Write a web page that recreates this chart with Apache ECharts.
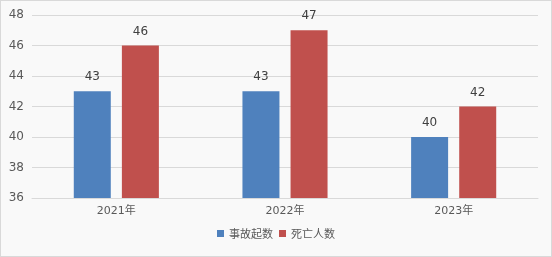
<!DOCTYPE html>
<html><head><meta charset="utf-8">
<script src="https://cdn.jsdelivr.net/npm/echarts@6/dist/echarts.min.js"></script>
<style>html,body{margin:0;padding:0;background:#fff}#c{width:552px;height:257px;box-sizing:border-box;border:1px solid #d9d9d9;background:#f9f9f9}</style>
</head><body><div id="c"></div>
<script>
const categories = ['2021年', '2022年', '2023年'];
const accidents = [43, 43, 40];
const deaths = [46, 47, 42];
const seriesNames = ['事故起数', '死亡人数'];
const chart = echarts.init(document.getElementById('c'));
const font = '"DejaVu Sans", "Noto Sans CJK SC", sans-serif';
const cjk = '"Noto Sans CJK SC", sans-serif';
chart.setOption({
  animation: false,
  textStyle: {fontFamily: font},
  grid: {left: 31, right: 13, top: 14, bottom: 58, containLabel: false},
  legend: {
    bottom: 12, left: 'center', itemWidth: 7, itemHeight: 7, itemGap: 6,
    icon: 'rect',
    textStyle: {color: '#595959', fontSize: 11, fontFamily: cjk},
    data: seriesNames
  },
  xAxis: {
    type: 'category', data: categories,
    axisLine: {lineStyle: {color: '#d9d9d9'}},
    axisTick: {show: false},
    axisLabel: {color: '#595959', fontSize: 11, margin: 8, fontFamily: font}
  },
  yAxis: {
    type: 'value', min: 36, max: 48, interval: 2,
    axisLine: {show: false}, axisTick: {show: false},
    splitLine: {lineStyle: {color: '#d9d9d9'}},
    axisLabel: {color: '#595959', fontSize: 12, margin: 8, fontFamily: font}
  },
  series: [
    {name: seriesNames[0], type: 'bar', data: accidents, barWidth: 37, barGap: '30%',
     itemStyle: {color: '#4f81bd'},
     label: {show: true, position: 'top', color: '#404040', fontSize: 12, distance: 8, fontFamily: font}},
    {name: seriesNames[1], type: 'bar', data: deaths, barWidth: 37,
     itemStyle: {color: '#c0504d'},
     label: {show: true, position: 'top', color: '#404040', fontSize: 12, distance: 8, fontFamily: font}}
  ]
});
</script></body></html>
